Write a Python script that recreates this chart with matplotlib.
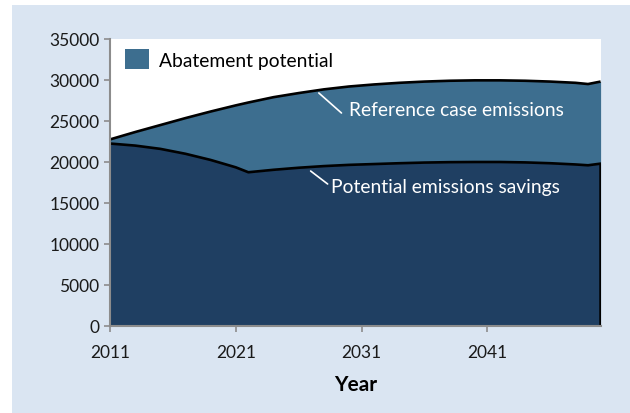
import matplotlib.pyplot as plt
from matplotlib.patches import Rectangle

# data
years = [2011, 2013, 2015, 2017, 2019, 2021, 2022, 2024, 2026, 2028, 2030,
         2032, 2034, 2036, 2038, 2040, 2042, 2044, 2046, 2048, 2049, 2050]
reference = [22700, 23600, 24450, 25300, 26100, 26850, 27200, 27850, 28350, 28800, 29150,
             29400, 29600, 29750, 29850, 29900, 29900, 29850, 29750, 29600, 29450, 29750]
savings = [22200, 21950, 21550, 20950, 20200, 19300, 18700, 19000, 19250, 19450, 19600,
           19700, 19800, 19880, 19930, 19950, 19950, 19900, 19800, 19650, 19550, 19750]
xticks = [2011, 2021, 2031, 2041]
yticks = list(range(0, 35001, 5000))

dark = '#1f3f62'
mid = '#3d6e8f'
panel = '#dae5f2'
grey = '#8c8c8c'

plt.rcParams['font.family'] = ['Lato', 'DejaVu Sans']

fig = plt.figure(figsize=(6.3, 4.14), dpi=100)
fig.patch.set_facecolor('white')
fig.patches.append(Rectangle((12 / 630, 0), 1 - 12 / 630, 1 - 6 / 414,
                             transform=fig.transFigure, facecolor=panel,
                             edgecolor='none', zorder=-10))

ax = fig.add_axes([110 / 630, 1 - 326.7 / 414, 490.6 / 630, 287.2 / 414])
ax.set_facecolor('white')

ax.fill_between(years, savings, reference, color=mid, lw=0, label='Abatement potential')
ax.fill_between(years, 0, savings, color=dark, lw=0)
ax.plot(years, reference, color='black', lw=1.9, solid_capstyle='butt')
ax.plot(years + [years[-1]], savings + [0], color='black', lw=1.9, solid_capstyle='butt')

ax.set_xlim(years[0], years[-1])
ax.set_ylim(0, 35000)
ax.set_xticks(xticks)
ax.set_yticks(yticks)
ax.tick_params(axis='both', colors=grey, labelcolor='#1a1a1a', labelsize=12.5,
               length=4, width=1.2, direction='out')
ax.tick_params(axis='x', pad=9)
for s in ['top', 'right']:
    ax.spines[s].set_visible(False)
for s in ['left', 'bottom']:
    ax.spines[s].set_color(grey)
    ax.spines[s].set_linewidth(1.5)

ax.set_xlabel('Year', fontsize=15, fontweight='bold', labelpad=10)

ax.legend(loc='upper left', frameon=False, fontsize=13.9, handlelength=1.2,
          handleheight=1.2, handletextpad=0.55, borderaxespad=0.3,
          bbox_to_anchor=(0.004, 1.01))

# series labels with short white leader lines
leader = dict(arrowstyle='-', color='white', lw=1.2, shrinkA=0, shrinkB=0)
ax.annotate('', xy=(2027.6, 28360), xytext=(2029.4, 25920), arrowprops=leader)
ax.text(2030.0, 25680, 'Reference case emissions', color='white', fontsize=13.9,
        ha='left', va='baseline')
ax.annotate('', xy=(2026.95, 18850), xytext=(2028.3, 17270), arrowprops=leader)
ax.text(2028.6, 16290, 'Potential emissions savings', color='white', fontsize=13.9,
        ha='left', va='baseline')

fig.savefig('out.png', dpi=100)
